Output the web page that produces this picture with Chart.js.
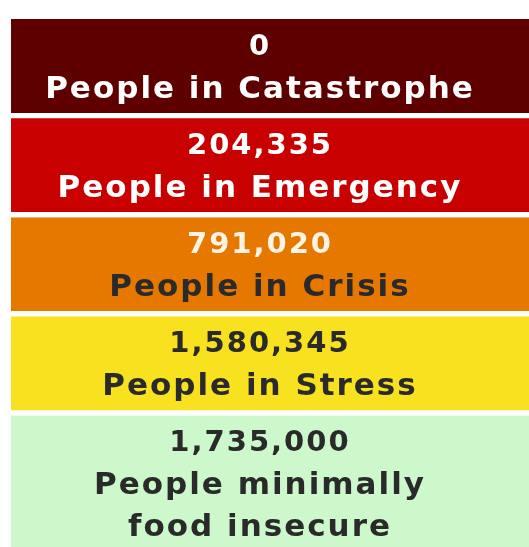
<!DOCTYPE html>
<html>
<head>
<meta charset="utf-8">
<script src="https://cdn.jsdelivr.net/npm/chart.js@4.4.0/dist/chart.umd.min.js"></script>
<style>
  html, body { margin: 0; padding: 0; background: #fff; overflow: hidden; }
  #wrap { position: relative; width: 529px; height: 564px; }
</style>
</head>
<body>
<div id="wrap"><canvas id="ipcChart"></canvas></div>
<script>
// IPC phase boxes - people per phase

const phases = ['Catastrophe', 'Emergency', 'Crisis', 'Stress', 'Minimal'];
const peopleCounts = [0, 204335, 791020, 1580345, 1735000];
const phaseLabels = [
    ['People in Catastrophe'],
    ['People in Emergency'],
    ['People in Crisis'],
    ['People in Stress'],
    ['People minimally', 'food insecure']
];

const boxColors = ['#5e0000', '#c80000', '#e67800', '#f8e11e', '#ccf8cc'];
const countColors = ['#ffffff', '#ffffff', '#fff4e6', '#2a2a2a', '#2a2a2a'];
const labelColors = ['#ffffff', '#ffffff', '#2a2a2a', '#2a2a2a', '#2a2a2a'];

// each box is as tall as the lines of text it holds (count + label lines)
const boxLines = phaseLabels.map(lines => lines.length + 1);

const boxText = {
    id: 'boxText',
    afterDatasetsDraw(chart) {
        const ctx = chart.ctx;
        ctx.save();
        ctx.textAlign = 'center';
        ctx.textBaseline = 'middle';
        ctx.letterSpacing = '2px';
        chart.data.datasets.forEach((ds, i) => {
            const el = chart.getDatasetMeta(i).data[0];
            if (!el) return;
            const top = Math.min(el.y, el.base);
            // text sits a bit left of the box centre in the original
            const cx = el.x - 10;
            ctx.fillStyle = countColors[i];
            ctx.font = 'bold 29px "DejaVu Sans"';
            ctx.fillText(peopleCounts[i].toLocaleString('en-US'), cx, top + 28);
            ctx.fillStyle = labelColors[i];
            ctx.font = 'bold 31px "DejaVu Sans"';
            phaseLabels[i].forEach((line, j) => {
                ctx.fillText(line, cx, top + 71 + j * 42);
            });
        });
        ctx.restore();
    }
};

function createIpcChart() {
    const ctx = document.getElementById('ipcChart');
    const total = boxLines.reduce((a, b) => a + b, 0);

    new Chart(ctx.getContext('2d'), {
        type: 'bar',
        data: {
            labels: [''],
            datasets: phases.map((p, i) => ({
                label: p,
                data: [boxLines[i]],
                backgroundColor: boxColors[i],
                borderColor: '#ffffff',
                borderWidth: { top: 0, left: 0, right: 0, bottom: 5.5 },
                borderSkipped: false,
                stack: 'ipc'
            }))
        },
        options: {
            responsive: true,
            maintainAspectRatio: false,
            animation: false,
            layout: { padding: { top: 19, left: 11, right: 0, bottom: 0 } },
            datasets: { bar: { barPercentage: 1, categoryPercentage: 1 } },
            plugins: {
                legend: { display: false },
                tooltip: { enabled: false }
            },
            scales: {
                x: { display: false, stacked: true },
                y: { display: false, stacked: true, reverse: true, min: 0, max: total }
            }
        },
        plugins: [boxText]
    });
}

createIpcChart();
</script>
</body>
</html>
